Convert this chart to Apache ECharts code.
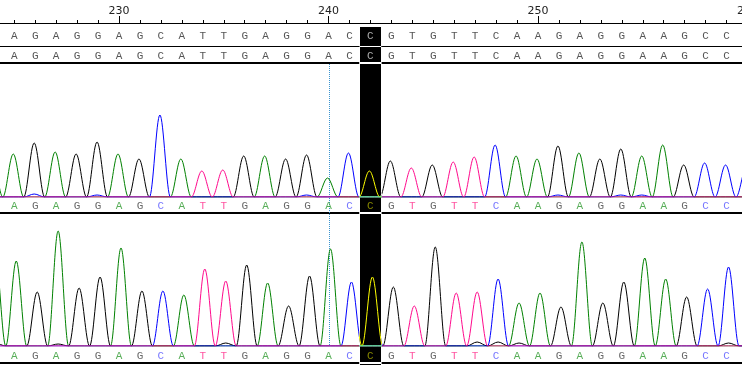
<!DOCTYPE html>
<html><head><meta charset="utf-8">
<script src="https://cdn.jsdelivr.net/npm/echarts@6/dist/echarts.min.js"></script>
<style>html,body{margin:0;padding:0;background:#fff}#c{width:742px;height:365px}</style>
</head><body><div id="c"></div><script>
// ---------- data ----------
const firstBase = 225;
const sequence = ['A','G','A','G','G','A','G','C','A','T','T','G','A','G','G','A','C','C','G','T','G','T','T','C','A','A','G','A','G','G','A','A','G','C','C'];
const trace1Heights = [43,54,45,43,55,43,38,82,38,26,27,41,41,38,42,19,44,26,36,29,32,35,40,52,41,38,51,44,38,48,41,52,32,34,32];
const trace2Heights = [85,54,115,58,69,98,55,55,51,77,65,81,63,40,70,97,64,69,59,40,99,53,54,67,43,53,39,104,43,64,88,67,49,57,79];
// peaks only partly visible at the edges: [base, channel, height]
const trace1Edge = [[224,'A',40],[260,'C',30]];
const trace2Edge = [[224,'A',90]];
// small secondary bumps: [base, channel, height]
const trace1Minor = [[226,'C',3],[229,'C',2],[239,'C',2],[251,'C',2],[254,'C',2],[255,'C',2]];
const trace2Minor = [[224,'G',3],[227,'G',2],[235,'G',3],[247,'G',4],[248,'G',4],[249,'G',3],[259,'G',3]];
const rulerLabels = [230,240,250,260];
const highlightBase = 242;
const cursorBase = 240;

// ---------- styles / layout ----------
const channels = ['A','G','C','T'];
const traceColors = {A:'#008000', C:'#0000ff', G:'#000000', T:'#ff0a8c'};
const invTraceColors = {A:'#ff7fff', C:'#ffff00', G:'#ffffff', T:'#00f573'};
const letterColors = {A:'#2e9a2e', C:'#5656ff', G:'#444444', T:'#ff2a8a'};
const invLetterColors = {A:'#d165d1', C:'#a9a900', G:'#bbbbbb', T:'#00d575'};
const rowLetterColor = '#2a2a2a', invRowLetterColor = '#d5d5d5';
const W = 20.95, X230 = 119, AXMIN = 220, AXMAX = 260, CW = 742;

const grids = [], xAxes = [], yAxes = [], series = [];
function pushGrid(left, width, top, height, xmin, xmax, ymin, ymax, xAxisExtra){
  grids.push({left:left, right:CW-left-width, top:top, height:height, containLabel:false, outerBoundsMode:'none', show:false});
  const i = grids.length-1;
  xAxes.push(Object.assign({type:'value', gridIndex:i, min:xmin, max:xmax, position:'bottom',
    axisLine:{show:false}, axisTick:{show:false}, axisLabel:{show:false}, splitLine:{show:false}, minorTick:{show:false}}, xAxisExtra||{}));
  yAxes.push({type:'value', gridIndex:i, min:ymin, max:ymax, show:false, splitLine:{show:false}});
  return i;
}
// full-width grid (shift in px moves the data horizontally)
function addGrid(top, height, shift, ymin, ymax, extra){
  const left = X230 + shift - (230-AXMIN)*W;
  return pushGrid(left, (AXMAX-AXMIN)*W, top, height, AXMIN, AXMAX, ymin, ymax, extra);
}
// grid covering only the highlighted column, same scale as the full grid
function addColGrid(top, height, shift, ymin, ymax, extra){
  const left = X230 + (highlightBase-0.5-230)*W;
  return pushGrid(left, W, top, height, highlightBase-0.5-shift/W, highlightBase+0.5-shift/W, ymin, ymax, extra);
}

// ruler (axis on top of a thin grid, ticks pointing up)
const gRuler = addGrid(23, 2, 0, 0, 1, {
  position:'top', interval:10,
  axisLine:{show:true, onZero:false, lineStyle:{color:'#000', width:1}},
  axisTick:{show:true, inside:false, length:7, lineStyle:{color:'#000', width:1}},
  minorTick:{show:true, splitNumber:10, length:3, lineStyle:{color:'#000', width:1}},
  axisLabel:{show:true, inside:false, margin:6, color:'#222', fontFamily:'DejaVu Sans', fontSize:11,
    showMaxLabel:true, showMinLabel:false,
    formatter:function(v){ return rulerLabels.indexOf(v)>=0 ? String(v) : ''; }}
});
const lineX = (w, c, z)=>({z:z||0, axisLine:{show:true, onZero:false, lineStyle:{color:c||'#000', width:w}}});
const gRow1 = addGrid(26, 20, 0, 0, 1, lineX(1));
const gRow2 = addGrid(49, 14, 0, 0, 1, lineX(2));
const gTr1 = addGrid(97, 100, -1, 0, 100);
const gLet1 = addGrid(199, 14, 0, 0, 1, lineX(2));
const gTr2 = addGrid(216, 130, 2, 0, 130);
const gLet2 = addGrid(349, 14, 0, 0, 1, lineX(2));
const gCur = addGrid(64, 282, 0, 0, 1);
// highlighted (inverted) column
const cBg = addColGrid(27, 338, 0, 0, 1);
const cRow1 = addColGrid(26, 20, 0, 0, 1, lineX(1,'#fff',60));
const cRow2 = addColGrid(49, 14, 0, 0, 1, lineX(2,'#fff',60));
const cTr1 = addColGrid(97, 100, -1, 0, 100);
const cLet1 = addColGrid(199, 14, 0, 0, 1, lineX(2,'#fff',60));
const cTr2 = addColGrid(216, 130, 2, 0, 130);
const cLet2 = addColGrid(349, 14, 0, 0, 1, lineX(2,'#fff',60));

function letterSeries(gi, colorOf, only, z){
  const items = [];
  sequence.forEach(function(b,i){
    const base = firstBase+i;
    if(only!==undefined && base!==only) return;
    items.push({name:b, value:[base,0.5], label:{color: colorOf(b)}});
  });
  return {type:'scatter', xAxisIndex:gi, yAxisIndex:gi, symbol:'rect', symbolSize:1, silent:true, z:z||3,
    itemStyle:{color:'rgba(0,0,0,0)'},
    label:{show:true, position:'inside', fontFamily:'Liberation Mono', fontSize:11, formatter:function(p){return p.name;}},
    data: items};
}
function channelData(heights, edges, minors, ch){
  const vals = {};
  sequence.forEach(function(b,i){ if(b===ch) vals[firstBase+i] = heights[i]; });
  edges.forEach(function(e){ if(e[1]===ch) vals[e[0]] = e[2]; });
  minors.forEach(function(m){ if(m[1]===ch && vals[m[0]]===undefined) vals[m[0]] = m[2]; });
  const out = [];
  for(let b=222; b<=262; b++){ out.push([b, vals[b]||0]); out.push([b+0.5, 0]); }
  return out;
}
function traceSeries(gi, heights, edges, minors, colors, z){
  channels.forEach(function(ch, k){
    series.push({type:'line', name:ch, xAxisIndex:gi, yAxisIndex:gi, showSymbol:false, symbol:'none', silent:true,
      smooth:0.35, smoothMonotone:'x', z:z+k*0.01, clip:true,
      lineStyle:{color:colors[ch], width:1}, data: channelData(heights, edges, minors, ch)});
  });
}

// cursor (dotted) line
series.push({type:'custom', xAxisIndex:gCur, yAxisIndex:gCur, silent:true, z:1, data:[[cursorBase]],
  renderItem:function(params, api){
    const p0 = api.coord([api.value(0), 1]), p1 = api.coord([api.value(0), 0]);
    const x = Math.round(p0[0]) + 0.5;
    return {type:'line', shape:{x1:x, y1:p0[1], x2:x, y2:p1[1]}, style:{stroke:'#3a94d0', lineWidth:1, lineDash:[1,1]}};
  }});
series.push({type:'scatter', xAxisIndex:gRuler, yAxisIndex:gRuler, data:[], silent:true});
series.push(letterSeries(gRow1, function(){return rowLetterColor;}));
series.push(letterSeries(gRow2, function(){return rowLetterColor;}));
traceSeries(gTr1, trace1Heights, trace1Edge, trace1Minor, traceColors, 2);
series.push(letterSeries(gLet1, function(b){return letterColors[b];}));
traceSeries(gTr2, trace2Heights, trace2Edge, trace2Minor, traceColors, 2);
series.push(letterSeries(gLet2, function(b){return letterColors[b];}));

// black column background
series.push({type:'custom', xAxisIndex:cBg, yAxisIndex:cBg, silent:true, z:50, clip:false, data:[[highlightBase]],
  renderItem:function(params, api){
    const p0 = api.coord([api.value(0)-0.5, 1]), p1 = api.coord([api.value(0)+0.5, 0]);
    const x0 = Math.round(p0[0]), x1 = Math.round(p1[0]);
    return {type:'rect', shape:{x:x0, y:p0[1], width:x1-x0, height:p1[1]-p0[1]}, style:{fill:'#000000'}};
  }});
// inverted content inside the column
series.push(letterSeries(cRow1, function(){return invRowLetterColor;}, highlightBase, 62));
series.push(letterSeries(cRow2, function(){return invRowLetterColor;}, highlightBase, 62));
traceSeries(cTr1, trace1Heights, trace1Edge, trace1Minor, invTraceColors, 60);
series.push(letterSeries(cLet1, function(b){return invLetterColors[b];}, highlightBase, 62));
traceSeries(cTr2, trace2Heights, trace2Edge, trace2Minor, invTraceColors, 60);
series.push(letterSeries(cLet2, function(b){return invLetterColors[b];}, highlightBase, 62));

const chart = echarts.init(document.getElementById('c'), null, {renderer:'canvas'});
chart.setOption({
  backgroundColor:'#ffffff', animation:false, tooltip:{show:false}, legend:{show:false},
  grid:grids, xAxis:xAxes, yAxis:yAxes, series:series
});
</script></body></html>
